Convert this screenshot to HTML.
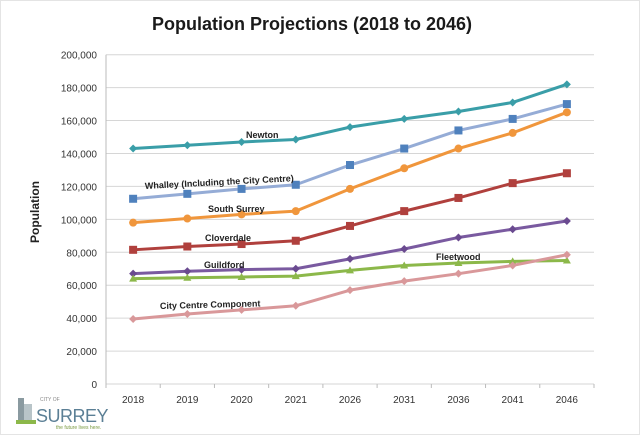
<!DOCTYPE html>
<html><head><meta charset="utf-8"><style>
body{margin:0;background:#fff;width:640px;height:435px;overflow:hidden;font-family:"Liberation Sans",sans-serif}
</style></head><body>
<svg id="s" width="640" height="435" xmlns="http://www.w3.org/2000/svg" font-family="Liberation Sans, sans-serif">
<rect x="0.5" y="0.5" width="639" height="434" fill="#fff" stroke="#e4e4e4"/>
<text x="312" y="30" text-anchor="middle" font-size="18" font-weight="bold" fill="#1a1a1a">Population Projections (2018 to 2046)</text>
<text transform="translate(39,212) rotate(-90)" text-anchor="middle" font-size="12" font-weight="bold" fill="#222">Population</text>
<g id="grid"></g>
<g id="series"></g>
<g font-size="9" font-weight="bold" fill="#222">
<text x="246" y="138">Newton</text>
<text x="145" y="189" transform="rotate(-3 145 189)">Whalley (Including the City Centre)</text>
<text x="208" y="212">South Surrey</text>
<text x="205" y="241">Cloverdale</text>
<text x="204" y="268">Guildford</text>
<text x="436" y="260">Fleetwood</text>
<text x="160" y="309" transform="rotate(-1.5 160 309)">City Centre Component</text>
</g>
<g>
<rect x="18" y="398" width="6" height="24" fill="#8a9aa0"/>
<rect x="24" y="404" width="8" height="18" fill="#b8c4c8"/>
<rect x="16" y="420" width="20" height="4" fill="#8cb84a"/>
<text x="36" y="422" font-size="18" fill="#5b7f95" letter-spacing="-0.5">SURREY</text>
<text x="40" y="401" font-size="5" fill="#888">CITY OF</text>
<text x="56" y="429" font-size="5" fill="#7a9a40">the future lives here.</text>
</g>
</svg>
<script>
var L=106,R=594,T=54.7,B=384,W=(R-L)/9;
function Y(v){return B-(B-T)*v/200;}
function X(i){return L+W/2+W*i;}
var g=document.getElementById('grid'),h='';
for(var k=0;k<=10;k++){var y=Y(k*20);
 h+='<line x1="'+L+'" x2="'+R+'" y1="'+y+'" y2="'+y+'" stroke="#d6d6d6"/>';
 h+='<text x="97" y="'+(y+4)+'" text-anchor="end" font-size="10" fill="#333">'+(k==0?'0':(k*20)+',000')+'</text>';}
h+='<line x1="'+L+'" x2="'+L+'" y1="'+T+'" y2="'+B+'" stroke="#bbb"/>';
var yr=[2018,2019,2020,2021,2026,2031,2036,2041,2046];
for(var i=0;i<=9;i++){var x=L+W*i;h+='<line x1="'+x+'" x2="'+x+'" y1="'+B+'" y2="'+(B+4)+'" stroke="#bbb"/>';}
for(var i=0;i<9;i++)h+='<text x="'+X(i)+'" y="403" text-anchor="middle" font-size="10" fill="#333">'+yr[i]+'</text>';
g.innerHTML=h;
var S=[
[[143,145,147,148.5,156,161,165.5,171,182],'#3a9ea8','#3a9ea8','d'],
[[112.5,115.5,118.5,121,133,143,154,161,170],'#95acd6','#4f81bd','s'],
[[98,100.5,103,105,118.5,131,143,152.5,165],'#f0963c','#f0963c','c'],
[[81.5,83.5,85,87,96,105,113,122,128],'#b0403d','#b0403d','s'],
[[67,68.5,69.5,70,76,82,89,94,99],'#7a5aa0','#6a4a90','d'],
[[64,64.5,65,65.5,69,72,73.5,74.5,75],'#8cb84a','#8cb84a','t'],
[[39.5,42.5,45,47.5,57,62.5,67,72,78.5],'#d9989a','#d9989a','d']];
var o='';
S.forEach(function(s){var p=s[0].map(function(v,i){return X(i)+','+Y(v);}).join(' ');
 o+='<polyline points="'+p+'" fill="none" stroke="'+s[1]+'" stroke-width="3" stroke-linejoin="round"/>';
 s[0].forEach(function(v,i){var x=X(i),y=Y(v);
  if(s[3]=='s')o+='<rect x="'+(x-4)+'" y="'+(y-4)+'" width="8" height="8" fill="'+s[2]+'"/>';
  else if(s[3]=='c')o+='<circle cx="'+x+'" cy="'+y+'" r="4" fill="'+s[2]+'"/>';
  else if(s[3]=='t')o+='<polygon points="'+x+','+(y-4)+' '+(x+4)+','+(y+3)+' '+(x-4)+','+(y+3)+'" fill="'+s[2]+'"/>';
  else o+='<polygon points="'+x+','+(y-4)+' '+(x+4)+','+y+' '+x+','+(y+4)+' '+(x-4)+','+y+'" fill="'+s[2]+'"/>';});});
document.getElementById('series').innerHTML=o;
</script>
</body></html>
